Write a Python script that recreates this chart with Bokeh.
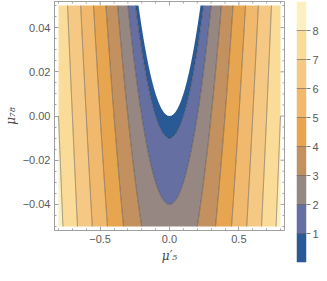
import numpy as np
from bokeh.plotting import figure
from bokeh.layouts import row
from bokeh.models import Range1d, LinearAxis, FixedTicker, ColumnDataSource
from bokeh.embed import file_html
from bokeh.resources import INLINE

# ---- data ----
levels = [0, 1, 2, 3, 4, 5, 6, 7, 8, 9]
band_colors = ["#2a5a96", "#666fa1", "#968782", "#c3915f", "#e8a550",
               "#f0b96e", "#f5c883", "#fadc98", "#fdf0c0"]
line_levels = [1, 2, 3, 4, 5, 6, 7, 8]

# surface: level = f_scale*sqrt(mu5'^2 - mu78)
# (vertex at origin, level 1 at mu78=-0.01, level 2 at mu78=-0.04, level ~ 10|mu5'| at mu78=0)
f_scale = 10.0
x_min, x_max = -0.8, 0.8
y_min, y_max = -0.05, 0.05

x_ticks = [-0.5, 0.0, 0.5]
x_tick_labels = ["−0.5", "0.0", "0.5"]
y_ticks = [-0.04, -0.02, 0.0, 0.02, 0.04]
y_tick_labels = ["−0.04", "−0.02", "0.00", "0.02", "0.04"]
cb_ticks = [1, 2, 3, 4, 5, 6, 7, 8]
cb_tick_labels = ["1", "2", "3", "4", "5", "6", "7", "8"]
x_label = "μ′₅"
y_label = "μ₇₈"

# ---- field on a grid ----
xs = np.linspace(x_min, x_max, 481)
ys = np.linspace(y_min, y_max, 361)
X, Y = np.meshgrid(xs, ys)
D = X ** 2 - Y
Z = f_scale * np.sign(D) * np.sqrt(np.abs(D))

FW, FH = 230, 229
padx = 4.0 / (FW - 8) * (x_max - x_min)
pady = 4.0 / (FH - 8) * (y_max - y_min)
x0r, x1r = x_min - padx, x_max + padx
y0r, y1r = y_min - pady, y_max + pady

AX_COL = "#a0a0a0"
LBL_COL = "#5a5a5a"
FONT = "Liberation Sans"

p = figure(frame_width=FW, frame_height=FH,
           x_range=Range1d(x0r, x1r), y_range=Range1d(y0r, y1r),
           output_backend="svg", toolbar_location=None,
           x_axis_location=None, y_axis_location=None,
           min_border_left=44, min_border_right=2, min_border_top=1,
           min_border_bottom=35, background_fill_color="white",
           border_fill_color="white", outline_line_color=AX_COL)

p.contour(xs, ys, Z, levels=levels, fill_color=band_colors, line_color=None)
p.contour(xs, ys, Z, levels=line_levels, fill_color=None,
          line_color="#333333", line_alpha=0.6, line_width=0.8)

x_minor = [round(v, 2) for v in np.arange(-0.8, 0.81, 0.1) if round(v, 2) not in x_ticks]
y_minor = [round(v, 3) for v in np.arange(-0.05, 0.0501, 0.005) if round(v, 3) not in y_ticks]


def make_axis(ticks, minor, labels, standoff):
    ax = LinearAxis(ticker=FixedTicker(ticks=ticks, minor_ticks=minor))
    ax.major_tick_in = 4
    ax.major_tick_out = 0
    ax.minor_tick_in = 2
    ax.minor_tick_out = 0
    ax.axis_line_color = AX_COL
    ax.major_tick_line_color = AX_COL
    ax.minor_tick_line_color = AX_COL
    ax.major_label_overrides = {t: l for t, l in zip(ticks, labels)}
    ax.major_label_text_font = FONT
    ax.major_label_text_font_size = "11px"
    ax.major_label_text_color = LBL_COL
    ax.major_label_standoff = 4
    ax.axis_label_text_font = "DejaVu Serif"
    ax.axis_label_text_font_style = "italic"
    ax.axis_label_text_font_size = "12px"
    ax.axis_label_text_color = "#444444"
    ax.axis_label_standoff = standoff
    return ax


xb = make_axis(x_ticks, x_minor, x_tick_labels, 3)
xb.axis_label = x_label
yl = make_axis(y_ticks, y_minor, y_tick_labels, 2)
yl.axis_label = y_label
p.add_layout(xb, "below")
p.add_layout(yl, "left")
p.grid.grid_line_color = None

# frame ticks on the top and right edges (inward, like the bottom/left ones)
p.ray(x=x_ticks, y=[y1r] * len(x_ticks), length=4, length_units="screen",
      angle=-np.pi / 2, line_color=AX_COL, line_width=1)
p.ray(x=x_minor, y=[y1r] * len(x_minor), length=2, length_units="screen",
      angle=-np.pi / 2, line_color=AX_COL, line_width=1)
p.ray(x=[x1r] * len(y_ticks), y=y_ticks, length=4, length_units="screen",
      angle=np.pi, line_color=AX_COL, line_width=1)
p.ray(x=[x1r] * len(y_minor), y=y_minor, length=2, length_units="screen",
      angle=np.pi, line_color=AX_COL, line_width=1)

# ---- colour bar ----
cb = figure(frame_width=10, frame_height=261,
            x_range=Range1d(0, 1), y_range=Range1d(levels[0], levels[-1]),
            output_backend="svg", toolbar_location=None,
            x_axis_location=None, y_axis_location="right",
            min_border_left=10, min_border_top=1, min_border_bottom=3,
            min_border_right=0, outline_line_color=None,
            background_fill_color="white", border_fill_color="white")
band_src = ColumnDataSource(dict(bottom=levels[:-1], top=levels[1:], color=band_colors))
cb.quad(left=0, right=1, bottom="bottom", top="top", fill_color="color",
        line_color=None, source=band_src)
line_src = ColumnDataSource(dict(lv=line_levels))
cb.segment(x0=0, x1=1, y0="lv", y1="lv", line_color="#333333", line_alpha=0.6,
           line_width=0.8, source=line_src)
cb.grid.grid_line_color = None
ya = cb.yaxis[0]
ya.ticker = FixedTicker(ticks=cb_ticks)
ya.major_label_overrides = {t: l for t, l in zip(cb_ticks, cb_tick_labels)}
ya.major_tick_in = 0
ya.major_tick_out = 4
ya.minor_tick_line_color = None
ya.axis_line_color = None
ya.major_tick_line_color = "#808080"
ya.major_label_text_font = FONT
ya.major_label_text_font_size = "11px"
ya.major_label_text_color = LBL_COL
ya.major_label_standoff = 2

layout = row(p, cb)
open("out.html", "w").write(file_html(layout, INLINE))
